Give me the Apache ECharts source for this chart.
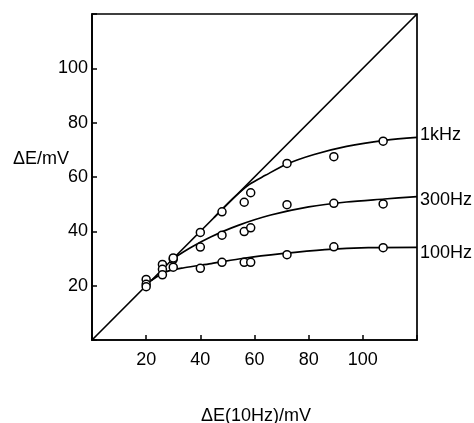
<!DOCTYPE html>
<html>
<head>
<meta charset="utf-8">
<script src="https://cdn.jsdelivr.net/npm/echarts@6/dist/echarts.min.js"></script>
<style>
  html, body { margin: 0; padding: 0; background: #fff; }
  #chart { width: 474px; height: 423px; }
</style>
</head>
<body>
<div id="chart"></div>
<script>
// measured points, x = ΔE(10Hz) in mV
const xPts = [20, 26, 30, 40, 48, 56.2, 58.6, 72, 89.3, 107.5]
const pts1k = [22.3, 27.8, 29.7, 39.6, 47.2, 50.7, 54.2, 65.0, 67.5, 73.2]
const pts300 = [20.5, 26.0, 30.2, 34.2, 38.6, 39.9, 41.3, 49.8, 50.3, 50.1]
const pts100 = [19.6, 24.0, 26.8, 26.4, 28.6, 28.6, 28.6, 31.4, 34.3, 34.0]

// drawn curves
const curve1kX = [45, 52, 58, 64, 72, 82, 94, 108, 120]
const curve1kY = [45, 52, 57.2, 60.6, 64.8, 68.3, 71.3, 73.5, 74.6]
const curve300X = [30, 36, 44, 54, 66, 80, 94, 108, 120]
const curve300Y = [30, 33.8, 38.0, 42.2, 46.0, 49.0, 50.8, 51.9, 52.8]
const curve100X = [22, 27, 34, 44, 56, 70, 86, 102, 120]
const curve100Y = [22, 25.0, 26.6, 28.1, 30.1, 31.8, 33.3, 34.0, 34.1]
const diagonal = [[0, 0], [120, 120]]

const tickLabels = [20, 40, 60, 80, 100]
const curveNames = ['1kHz', '300Hz', '100Hz']

const zip = (xs, ys) => xs.map((x, i) => [x, ys[i]])

const font = 'Liberation Sans'
const fmt = (v) => (tickLabels.indexOf(v) >= 0 ? String(v) : '')

function curveSeries(name, xs, ys, dy) {
  return {
    name: name,
    type: 'line',
    data: zip(xs, ys),
    smooth: 0.3,
    symbol: 'none',
    lineStyle: { color: '#000', width: 1.7 },
    endLabel: {
      show: true,
      formatter: name,
      distance: 3,
      offset: [0, dy],
      color: '#000',
      fontFamily: font,
      fontSize: 18
    },
    z: 2
  }
}

function pointSeries(ys) {
  return {
    type: 'scatter',
    data: zip(xPts, ys),
    symbol: 'circle',
    symbolSize: 8,
    itemStyle: { color: '#fff', borderColor: '#000', borderWidth: 1.5, opacity: 1 },
    z: 5
  }
}

const chart = echarts.init(document.getElementById('chart'))
chart.setOption({
  animation: false,
  backgroundColor: '#fff',
  grid: {
    left: 92,
    top: 14,
    width: 325,
    height: 326,
    show: true,
    borderColor: '#000',
    borderWidth: 1.7,
    backgroundColor: 'transparent'
  },
  xAxis: {
    type: 'value',
    min: 0,
    max: 120,
    interval: 20,
    axisLine: { show: true, lineStyle: { color: '#000', width: 1.7 } },
    axisTick: { show: true, inside: true, length: 5, lineStyle: { color: '#000', width: 1.5 } },
    splitLine: { show: false },
    axisLabel: { formatter: fmt, color: '#000', fontFamily: font, fontSize: 18, margin: 11 }
  },
  yAxis: {
    type: 'value',
    min: 0,
    max: 120,
    interval: 20,
    axisLine: { show: true, lineStyle: { color: '#000', width: 1.7 } },
    axisTick: { show: true, inside: true, length: 5, lineStyle: { color: '#000', width: 1.5 } },
    splitLine: { show: false },
    axisLabel: { formatter: fmt, color: '#000', fontFamily: font, fontSize: 18, margin: 4 }
  },
  graphic: [
    {
      type: 'text',
      left: 13,
      top: 150,
      style: { text: 'ΔE/mV', fill: '#000', font: '18px "Liberation Sans"' }
    },
    {
      type: 'text',
      left: 201,
      top: 407,
      style: { text: 'ΔE(10Hz)/mV', fill: '#000', font: '18px "Liberation Sans"' }
    }
  ],
  series: [
    {
      type: 'line',
      data: diagonal,
      symbol: 'none',
      lineStyle: { color: '#000', width: 1.7 },
      z: 2
    },
    curveSeries(curveNames[0], curve1kX, curve1kY, -2),
    curveSeries(curveNames[1], curve300X, curve300Y, 3),
    curveSeries(curveNames[2], curve100X, curve100Y, 6),
    pointSeries(pts1k),
    pointSeries(pts300),
    pointSeries(pts100)
  ]
})
</script>
</body>
</html>
